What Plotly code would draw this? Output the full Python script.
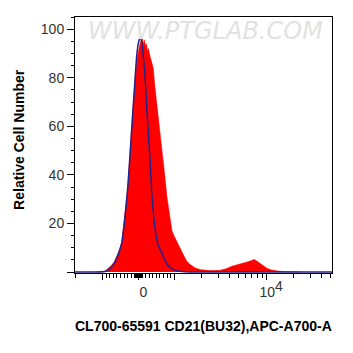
import numpy as np
import plotly.graph_objects as go

# ---- data (fluorescence intensity, % of max) ----
sample_x = [-1210, -1068, -933, -794, -683, -563, -468, -396, -348, -293, -237, -181, -139, -84, -28,
            14, 56, 84, 111, 139, 167, 195, 223, 251, 279, 320, 362, 412, 460, 507, 557, 619, 691,
            739, 794, 836, 878, 934, 989, 1041, 1095, 1151, 1241, 1361, 1478, 1675, 1898, 2439,
            3133, 3640, 4230, 4915, 5570, 6157, 6806, 7335, 7713, 8315, 9190, 10160, 11510, 14060,
            18060, 23200]
sample_y = [0, 0.1, 0.4, 2.2, 4, 8, 12, 22, 28, 36, 49, 62, 71, 82, 89,
            92, 95, 93, 96, 94, 95.5, 93, 94, 91, 92, 89, 87, 84, 76, 70, 64, 57, 46,
            39, 31, 27, 23, 17, 15, 13.5, 11.5, 10, 7.5, 4.5, 3.2, 1.8, 1.0, 0.6,
            0.7, 1.3, 2.4, 3.2, 3.6, 4.1, 4.6, 5.2, 4.8, 4.0, 2.6, 1.6, 0.8, 0.3,
            0.1, 0]

iso_x = [-2000, -1210, -933, -794, -683, -571, -468, -396, -329, -293, -237, -167, -111, -50, 0,
         56, 98, 139, 181, 229, 279, 320, 368, 418, 460, 552, 647, 786, 878, 1060, 1310, 1898, 52000]
iso_y = [0, 0, 0.2, 1.5, 3.5, 7, 12, 20, 29.7, 36, 48, 64, 76, 89, 94.5,
         97, 94, 88, 81, 68, 56, 47, 33, 24, 18, 11, 8, 3.5, 2, 0.5, 0.1, 0, 0]

x_label_vals = [0, 10000]
x_label_text = ["0", "10<sup><span style='font-size:14px'>4</span></sup>"]
x_unlabeled_major = [-1000, 1000]
x_minor_vals = ([-2000] + [-100 * k for k in range(2, 10)] + [-100] +
                [-10 * k for k in range(1, 10)] + [10 * k for k in range(1, 10)] +
                [100 * k for k in range(1, 10)] + [1000 * k for k in range(2, 10)] +
                [10000 * k for k in range(2, 6)])
y_label_vals = [20, 40, 60, 80, 100]
y_unlabeled_major = [0]
x_limits = [-2000, 52000]
y_limits = [-0.4, 105]

x_title = "CL700-65591 CD21(BU32),APC-A700-A"
y_title = "Relative Cell Number"
watermark = "WWW.PTGLAB.COM"


def biex(v):
    """Simple biexponential display transform (linear near 0, log above 10^3)."""
    v = np.asarray(v, dtype=float)
    a = np.abs(v)
    return np.where(a <= 1000, v / 1000 * 0.39,
                    np.sign(v) * (0.39 + np.log10(np.maximum(a, 1e-9) / 1000)))


FONT = "Liberation Sans, Arial, sans-serif"
XR = list(biex(x_limits))

fig = go.Figure()
fig.add_trace(go.Scatter(x=biex(sample_x), y=sample_y, mode="lines",
                         line=dict(color="#ff0000", width=0.5),
                         fill="tozeroy", fillcolor="#ff0000", showlegend=False,
                         hoverinfo="skip"))
fig.add_trace(go.Scatter(x=biex(iso_x), y=iso_y, mode="lines",
                         line=dict(color="#22228a", width=1.5, shape="spline", smoothing=0.5),
                         showlegend=False, hoverinfo="skip"))

fig.update_layout(
    width=345, height=345,
    margin=dict(l=67, r=21, t=9, b=80),
    paper_bgcolor="white", plot_bgcolor="white",
    font=dict(family=FONT, color="#222"),
    xaxis=dict(range=XR, tickmode="array",
               tickvals=list(biex(x_label_vals)), ticktext=x_label_text,
               ticks="outside", ticklen=6, tickwidth=1, tickcolor="black",
               showline=True, linecolor="black", linewidth=1, mirror=True,
               showgrid=False, zeroline=False, ticklabelshift=5,
               tickfont=dict(family=FONT, size=14, color="#333"),
               minor=dict(tickmode="array", tickvals=list(biex(x_minor_vals)),
                          ticks="outside", ticklen=3.5, tickwidth=1,
                          tickcolor="black", showgrid=False)),
    xaxis2=dict(range=XR, overlaying="x", anchor="y", side="bottom",
                tickmode="array", tickvals=list(biex(x_unlabeled_major)),
                showticklabels=False, ticks="outside", ticklen=6, tickwidth=1,
                tickcolor="black", showline=False, showgrid=False, zeroline=False),
    yaxis=dict(range=y_limits, tickmode="array", tickvals=y_label_vals,
               ticks="outside", ticklen=7, tickwidth=1, tickcolor="black",
               showline=True, linecolor="black", linewidth=1, mirror=True,
               showgrid=False, zeroline=False,
               tickfont=dict(family=FONT, size=14, color="#333"),
               minor=dict(dtick=5, tick0=0, ticks="outside", ticklen=3.5,
                          tickwidth=1, tickcolor="black", showgrid=False)),
    yaxis2=dict(range=y_limits, overlaying="y", anchor="x", side="left",
                tickmode="array", tickvals=y_unlabeled_major, showticklabels=False,
                ticks="outside", ticklen=7, tickwidth=1, tickcolor="black",
                showline=False, showgrid=False, zeroline=False),
    annotations=[
        dict(text="<b>" + x_title + "</b>", xref="paper", yref="paper",
             x=0.5, y=0, yanchor="middle", xanchor="center", yshift=-53,
             showarrow=False, font=dict(family=FONT, size=14, color="black")),
        dict(text="<b>" + y_title + "</b>", xref="paper", yref="paper",
             x=0, y=0.52, xanchor="center", yanchor="middle", xshift=-56,
             textangle=-90, showarrow=False,
             font=dict(family=FONT, size=14, color="black")),
        dict(text="<i>" + watermark + "</i>", xref="paper", yref="paper",
             x=0.506, y=1, yanchor="middle", xanchor="center", yshift=-14,
             showarrow=False,
             font=dict(family="DejaVu Sans", size=24, color="#e2e2e2")),
    ],
)

# invisible trace to activate the overlay axes carrying the unlabeled major ticks
fig.add_trace(go.Scatter(x=[XR[0]], y=[y_limits[0]], xaxis="x2", yaxis="y2",
                         mode="markers", marker=dict(opacity=0), showlegend=False,
                         hoverinfo="skip"))

fig.write_html("out.html")
